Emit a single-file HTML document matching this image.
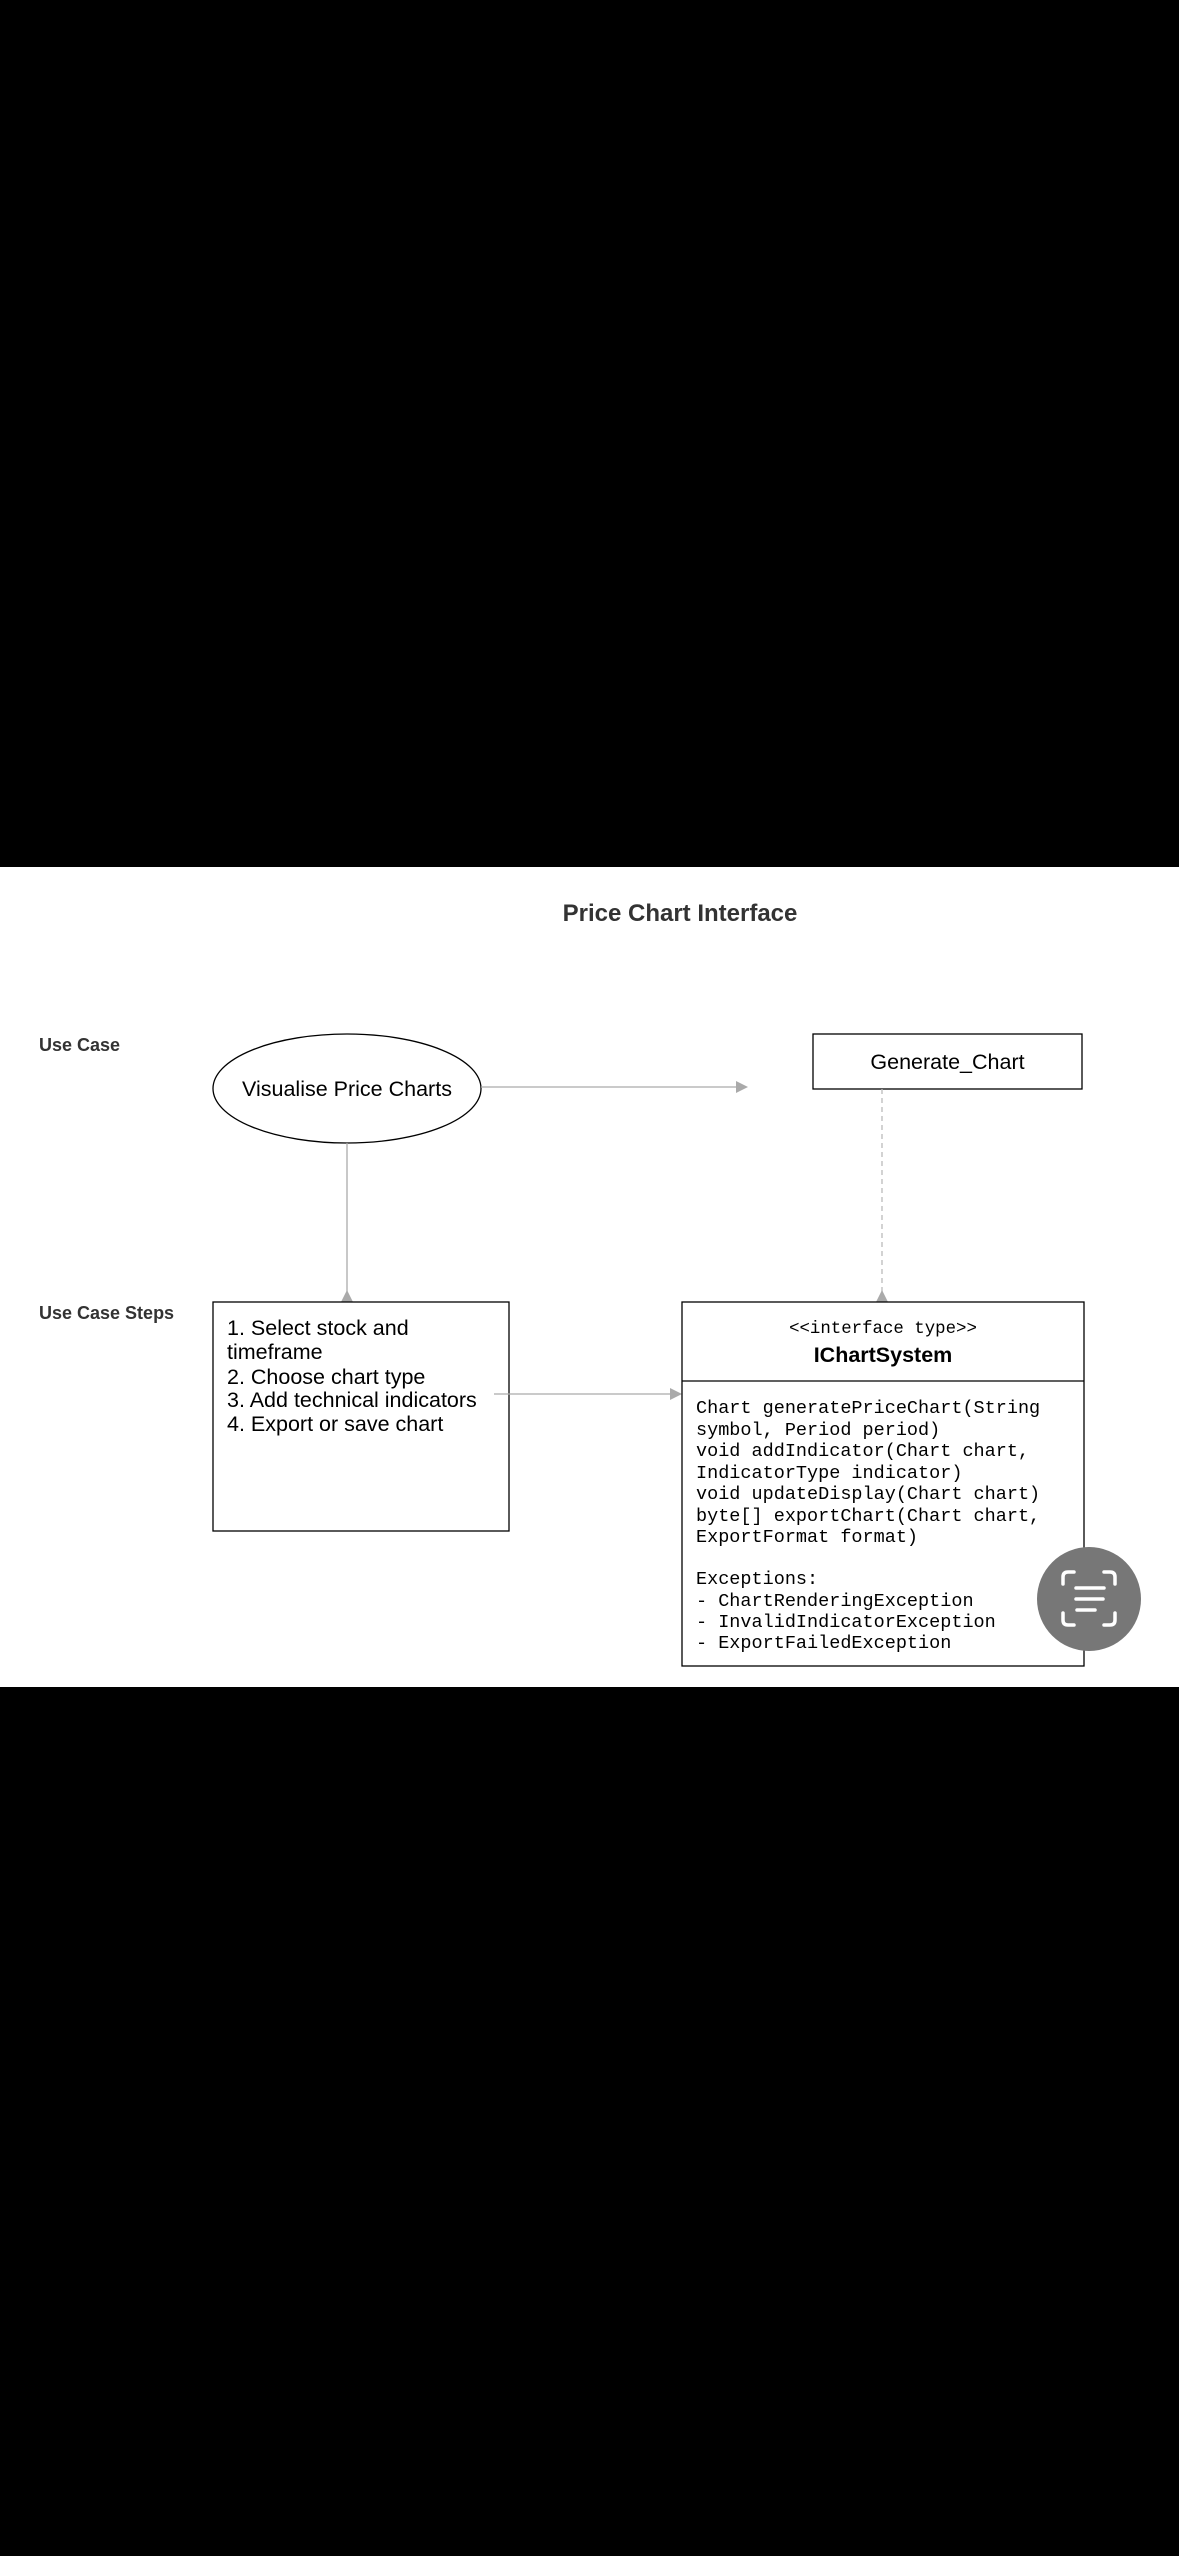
<!DOCTYPE html>
<html><head><meta charset="utf-8"><style>
html,body{margin:0;padding:0;background:#000;width:1179px;height:2556px;overflow:hidden}
svg{display:block}
</style></head><body>
<svg width="1179" height="2556" viewBox="0 0 1179 2556" xmlns="http://www.w3.org/2000/svg">
<rect x="0" y="0" width="1179" height="2556" fill="#000"/>
<rect x="0" y="867" width="1179" height="820" fill="#fff"/>
<text x="680" y="921" text-anchor="middle" font-family="Liberation Sans, sans-serif" font-weight="bold" font-size="24" fill="#333">Price Chart Interface</text>
<text x="39" y="1051" font-family="Liberation Sans, sans-serif" font-weight="bold" font-size="18" fill="#333">Use Case</text>
<text x="39" y="1319" font-family="Liberation Sans, sans-serif" font-weight="bold" font-size="18" fill="#333">Use Case Steps</text>

<ellipse cx="347" cy="1088.5" rx="134" ry="54.5" fill="#fff" stroke="#000" stroke-width="1.3"/>
<text x="347" y="1096" text-anchor="middle" font-family="Liberation Sans, sans-serif" font-size="21.5" fill="#000">Visualise Price Charts</text>

<line x1="481" y1="1087" x2="738" y2="1087" stroke="#aaa" stroke-width="1.3"/>
<polygon points="736,1081 748,1087 736,1093" fill="#aaa"/>

<rect x="813" y="1034" width="269" height="55" fill="#fff" stroke="#000" stroke-width="1.3"/>
<text x="947.5" y="1069" text-anchor="middle" font-family="Liberation Sans, sans-serif" font-size="21.5" fill="#000">Generate_Chart</text>

<line x1="882" y1="1089" x2="882" y2="1292" stroke="#bbb" stroke-width="1.3" stroke-dasharray="5,4"/>
<polygon points="876,1302 882,1290 888,1302" fill="#aaa"/>

<line x1="347" y1="1143" x2="347" y2="1292" stroke="#aaa" stroke-width="1.3"/>
<polygon points="341,1302 347,1290 353,1302" fill="#aaa"/>

<rect x="213" y="1302" width="296" height="229" fill="#fff" stroke="#000" stroke-width="1.3"/>
<g font-family="Liberation Sans, sans-serif" font-size="21.5" fill="#000">
<text x="227" y="1335">1. Select stock and</text>
<text x="227" y="1359">timeframe</text>
<text x="227" y="1384">2. Choose chart type</text>
<text x="227" y="1407">3. Add technical indicators</text>
<text x="227" y="1431">4. Export or save chart</text>
</g>

<line x1="494" y1="1394" x2="672" y2="1394" stroke="#aaa" stroke-width="1.3"/>
<polygon points="670,1388 682,1394 670,1400" fill="#aaa"/>

<rect x="682" y="1302" width="402" height="364" fill="#fff" stroke="#000" stroke-width="1.3"/>
<line x1="682" y1="1381" x2="1084" y2="1381" stroke="#000" stroke-width="1.3"/>
<text x="883" y="1333" text-anchor="middle" font-family="Liberation Mono, monospace" font-size="17.4" fill="#000">&lt;&lt;interface type&gt;&gt;</text>
<text x="883" y="1362" text-anchor="middle" font-family="Liberation Sans, sans-serif" font-weight="bold" font-size="21.5" fill="#000">IChartSystem</text>
<g font-family="Liberation Mono, monospace" font-size="18.5" fill="#000">
<text x="696" y="1413">Chart generatePriceChart(String</text>
<text x="696" y="1435">symbol, Period period)</text>
<text x="696" y="1456">void addIndicator(Chart chart,</text>
<text x="696" y="1478">IndicatorType indicator)</text>
<text x="696" y="1499">void updateDisplay(Chart chart)</text>
<text x="696" y="1521">byte[] exportChart(Chart chart,</text>
<text x="696" y="1542">ExportFormat format)</text>
<text x="696" y="1584">Exceptions:</text>
<text x="696" y="1606">- ChartRenderingException</text>
<text x="696" y="1627">- InvalidIndicatorException</text>
<text x="696" y="1648">- ExportFailedException</text>
</g>

<circle cx="1089" cy="1599" r="52" fill="#777"/>
<g stroke="#fff" stroke-width="3.5" fill="none" stroke-linecap="round">
<path d="M1063,1584 V1577 Q1063,1572 1068,1572 H1074"/>
<path d="M1104,1572 H1110 Q1115,1572 1115,1577 V1584"/>
<path d="M1063,1613 V1620 Q1063,1625 1068,1625 H1074"/>
<path d="M1104,1625 H1110 Q1115,1625 1115,1620 V1613"/>
<line x1="1076" y1="1588" x2="1104" y2="1588"/>
<line x1="1076" y1="1599" x2="1103" y2="1599"/>
<line x1="1077" y1="1610" x2="1095" y2="1610"/>
</g>
</svg>
</body></html>
